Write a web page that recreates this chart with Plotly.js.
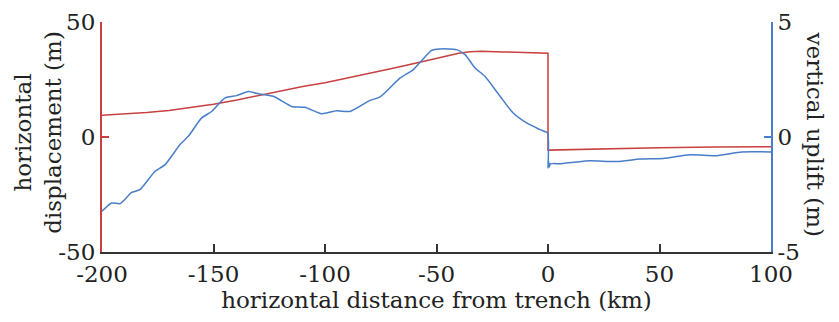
<!DOCTYPE html>
<html>
<head>
<meta charset="utf-8">
<script src="https://cdn.plot.ly/plotly-3.0.1.min.js"></script>
</head>
<body style="margin:0">
<div id="chart" style="width:839px;height:322px"></div>
<script>
// horizontal displacement (m), left axis
const distH = [-200,-190,-180,-170,-160,-150,-140,-130,-120,-110,-100,-90,-80,-70,-60,-50,-40,-35,-30,-20,-10,0,0,25,50,75,100];
const dispH = [9.5,10,10.6,11.5,12.7,14.2,16,18,20,22,23.6,25.6,27.8,29.8,32,34.2,36.4,37.1,37.3,37,36.7,36.4,-5.7,-5.1,-4.7,-4.4,-4.2];

// vertical uplift (m), right axis
const distV = [-200,-195.7,-191.9,-186.7,-183,-176.2,-171.7,-165,-161.3,-155.3,-150.8,-144.8,-139.6,-134.4,-129.9,-123.2,-114.9,-109,-101.5,-94.8,-88.8,-79.8,-75.3,-66.4,-60.4,-52.2,-48.4,-41,-37.2,-32.7,-28.3,-21.5,-15.6,-9.6,-3.6,-0.2,0,0.3,0.6,1,5.4,11.4,18.8,30.8,41.3,51.7,63.7,75.6,86.9,100];
const upliftV = [-3.23,-2.87,-2.9,-2.41,-2.29,-1.49,-1.2,-0.33,0.03,0.83,1.11,1.7,1.8,1.98,1.88,1.77,1.33,1.29,1.01,1.14,1.11,1.59,1.74,2.56,2.93,3.77,3.83,3.8,3.58,3.0,2.64,1.77,1.04,0.61,0.32,0.17,-1.35,-1.05,-1.3,-1.17,-1.16,-1.1,-1.03,-1.07,-0.96,-0.93,-0.77,-0.81,-0.65,-0.65];

const xTicks = [-200,-150,-100,-50,0,50,100];
const xTickText = ['-200','-150','-100','-50','0','50','100'];
const yLeftTicks = [-50,0,50];
const yLeftText = ['-50','0','50'];
const yRightTicks = [-5,0,5];
const yRightText = ['-5','0','5'];

const RED = 'rgb(200,64,64)';
const BLUE = 'rgb(72,126,200)';
const FONT = 'DejaVu Serif';
const TF = {family: FONT, size: 23, color: '#222'};

const data = [
  {x: distH, y: dispH, type: 'scatter', mode: 'lines', line: {color: RED, width: 1.5}, yaxis: 'y', hoverinfo: 'skip'},
  {x: distV, y: upliftV, type: 'scatter', mode: 'lines', line: {color: BLUE, width: 1.5, shape: 'spline', smoothing: 0.6}, yaxis: 'y2', hoverinfo: 'skip'}
];

const layout = {
  width: 839, height: 322,
  margin: {l: 102, r: 68, t: 22, b: 70},
  paper_bgcolor: '#fff', plot_bgcolor: '#fff',
  showlegend: false,
  xaxis: {
    range: [-200, 100], tickvals: xTicks, ticktext: xTickText,
    showgrid: false, zeroline: false, showline: true, linecolor: '#333', linewidth: 2,
    ticks: 'inside', ticklen: 8, tickwidth: 1.5, tickcolor: '#333',
    tickfont: TF,
    title: {text: 'horizontal distance from trench (km)', font: TF, standoff: 2}
  },
  yaxis: {
    range: [-50, 50], tickvals: yLeftTicks, ticktext: yLeftText,
    showgrid: false, zeroline: false, showline: true, linecolor: RED, linewidth: 2,
    ticks: 'inside', ticklen: 7, tickwidth: 1.5, tickcolor: RED,
    tickfont: TF
  },
  yaxis2: {
    range: [-5, 5], tickvals: yRightTicks, ticktext: yRightText,
    overlaying: 'y', side: 'right',
    showgrid: false, zeroline: false, showline: true, linecolor: BLUE, linewidth: 2,
    ticks: 'inside', ticklen: 7, tickwidth: 1.5, tickcolor: BLUE,
    tickfont: TF
  },
  annotations: [
    {text: 'horizontal<br>displacement (m)', xref: 'paper', yref: 'paper', x: -0.095, y: 0.52, xanchor: 'center', yanchor: 'middle', textangle: -90, showarrow: false, font: TF},
    {text: 'vertical uplift (m)', xref: 'paper', yref: 'paper', x: 1.066, y: 0.51, xanchor: 'center', yanchor: 'middle', textangle: 90, showarrow: false, font: TF}
  ]
};

Plotly.newPlot('chart', data, layout, {displayModeBar: false});
</script>
</body>
</html>
